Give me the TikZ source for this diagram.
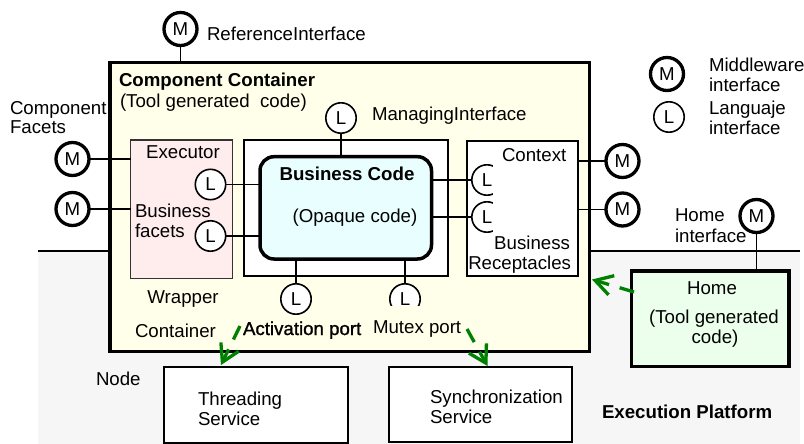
\documentclass[tikz,border=0pt]{standalone}
\usepackage{fontspec}
\setmainfont{Liberation Sans}
\newfontfamily\heavyfont[FakeBold=1.2]{Liberation Sans}
\usetikzlibrary{arrows.meta}

\definecolor{contfill}{RGB}{255,255,234}
\definecolor{wrapfill}{RGB}{255,236,236}
\definecolor{bcfill}{RGB}{232,254,255}
\definecolor{homefill}{RGB}{236,255,236}
\definecolor{platgrey}{RGB}{246,246,246}
\definecolor{arrowgreen}{RGB}{0,128,0}

\begin{document}
\begin{tikzpicture}[x=1pt,y=-1pt,
  font=\fontsize{18.67}{22}\selectfont,
  every node/.style={inner sep=0pt, outer sep=0pt},
  txt/.style={anchor=base west},
  txtc/.style={anchor=base},
  txte/.style={anchor=base east},
  mport/.style={circle, draw, line width=3.3pt, minimum size=33pt, fill=white},
  lport/.style={circle, draw, line width=1.6pt, minimum size=30.4pt, fill=white},
  conn/.style={line width=1.8pt},
  boxnw/.style={draw, anchor=north west},
  thinbox/.style={boxnw, line width=2pt, fill=white},
  garrow/.style={draw=arrowgreen, line width=3.3pt, dash pattern=on 15pt off 11pt,
    -{Straight Barb[length=17pt,width=20pt]}},
]
\useasboundingbox (0,0) rectangle (804,444);

% execution platform band
\node[fill=platgrey, anchor=north west, minimum width=762pt, minimum height=193pt] (plat) at (38,251) {};
\draw[line width=1.8pt] (plat.north west) -- (plat.north east);

% node services
\node[thinbox, minimum width=183.7pt, minimum height=76.3pt] (thr) at (164.3,366.7) {};
\node[thinbox, minimum width=182.4pt, minimum height=75.3pt] (syn) at (389.3,367) {};

% component container
\node[boxnw, line width=3.5pt, fill=contfill, minimum width=479.5pt, minimum height=288.5pt] (cont) at (109.75,62.75) {};

% reference interface
\node[mport] (refM) at (180.5,29) {M};
\draw[conn] (refM.south) -- (refM.south |- cont.north);

% inner boxes
\node[boxnw, draw=black!80, line width=1.5pt, fill=wrapfill, minimum width=101.6pt, minimum height=138.1pt] (wrap) at (130.7,140.2) {};
\node[thinbox, minimum width=204.3pt, minimum height=136pt] (mgbox) at (243.7,140.3) {};
\node[thinbox, minimum width=111.6pt, minimum height=135.3pt] (rec) at (466.7,141) {};
\node[boxnw, line width=3.5pt, rounded corners=14pt, fill=bcfill, minimum width=171.5pt, minimum height=102.3pt] (bc) at (260,156.7) {};

% managing interface
\node[lport] (mgL) at (341,118) {L};
\draw[conn] (mgL.south) -- (mgL.south |- bc.north);

% component facets
\node[mport] (fM1) at (72.5,159) {M};
\node[mport] (fM2) at (72.5,209) {M};
\draw[conn] (fM1.east) -- (fM1.east -| wrap.west);
\draw[conn] (fM2.east) -- (fM2.east -| wrap.west);

% business facets
\node[lport] (wL1) at (210.5,184.5) {L};
\node[lport] (wL2) at (210.5,236) {L};
\draw[conn] (wL1.east) -- (wL1.east -| bc.west);
\draw[conn] (wL2.east) -- (wL2.east -| bc.west);

% business receptacles, half hidden by the receptacle panel
\node[lport] (rL1) at (487,180) {L};
\node[lport] (rL2) at (487,217) {L};
\draw[conn] (rL1.west -| bc.east) -- (rL1.west);
\draw[conn] (rL2.west -| bc.east) -- (rL2.west);
\fill[white] (493,163) rectangle (577,234);

% context interfaces
\node[mport] (cM1) at (622.5,161) {M};
\node[mport] (cM2) at (622.5,209.5) {M};
\draw[conn] (cM1.west -| rec.east) -- (cM1.west);
\draw[conn] (cM2.west -| rec.east) -- (cM2.west);

% activation and mutex ports
\node[lport] (actL) at (296,299) {L};
\node[lport] (mxL) at (405,299) {L};
\draw[conn] (actL.north |- bc.south) -- (actL.north);
\draw[conn] (mxL.north |- bc.south) -- (mxL.north);
\fill[contfill] (386,305.5) rectangle (424,318);

% home
\node[boxnw, line width=3.3pt, fill=homefill, minimum width=157.4pt, minimum height=95.6pt] (home) at (631.6,271) {};
\node[mport] (homeM) at (756.5,216) {M};
\draw[conn] (homeM.south) -- (homeM.south |- home.north);

% legend
\node[mport] (lgM) at (667,74) {M};
\node[lport] (lgL) at (669,117) {L};

% labels
\node[txt] at (207,41) {ReferenceInterface};
\node[txt] at (119,87) {\bfseries Component Container};
\node[txt] at (120,107) {(Tool generated\ \ code)};
\node[txt] at (10,114) {Component};
\node[txt] at (10,133) {Facets};
\node[txt] at (372,121) {ManagingInterface};
\node[txt] at (709,72) {Middleware};
\node[txt] at (709,92) {interface};
\node[txt] at (709,114) {Languaje};
\node[txt] at (709,134) {interface};
\node[txtc] at (183,158.5) {Executor};
\node[txt] at (135,217) {Business};
\node[txt] at (135,237) {facets};
\node[txtc] at (347,180) {\bfseries Business Code};
\node[txtc] at (355,222) {(Opaque code)};
\node[txt] at (502,161) {Context};
\node[txte] at (570,249) {Business};
\node[txte] at (571,269) {Receptacles};
\node[txt] at (675,221) {Home};
\node[txt] at (675,242) {interface};
\node[txtc] at (183,303) {Wrapper};
\node[txt] at (135,337) {Container};
\node[txt] at (243,335) {\heavyfont Activation port};
\node[txt] at (373,333) {Mutex port};
\node[txt] at (96,385) {Node};
\node[txt] at (198,405) {Threading};
\node[txt] at (198,425) {Service};
\node[txt] at (430,403) {Synchronization};
\node[txt] at (430,423) {Service};
\node[txt] at (602,418) {\bfseries Execution Platform};
\node[txtc] at (712,294) {Home};
\node[txtc] at (714,323) {(Tool generated};
\node[txtc] at (715,343) {code)};

% dependencies on platform services
\coordinate (a1s) at (240,326);
\coordinate (a1e) at (221,365);
\coordinate (a2s) at (467,329);
\coordinate (a2e) at (487.5,366);
\coordinate (a3s) at (634,292);
\coordinate (a3e) at (592,279.5);
\draw[garrow] (a1s) -- (a1e);
\draw[garrow] (a2s) -- (a2e);
\draw[garrow] (a3s) -- (a3e);
\end{tikzpicture}
\end{document}
